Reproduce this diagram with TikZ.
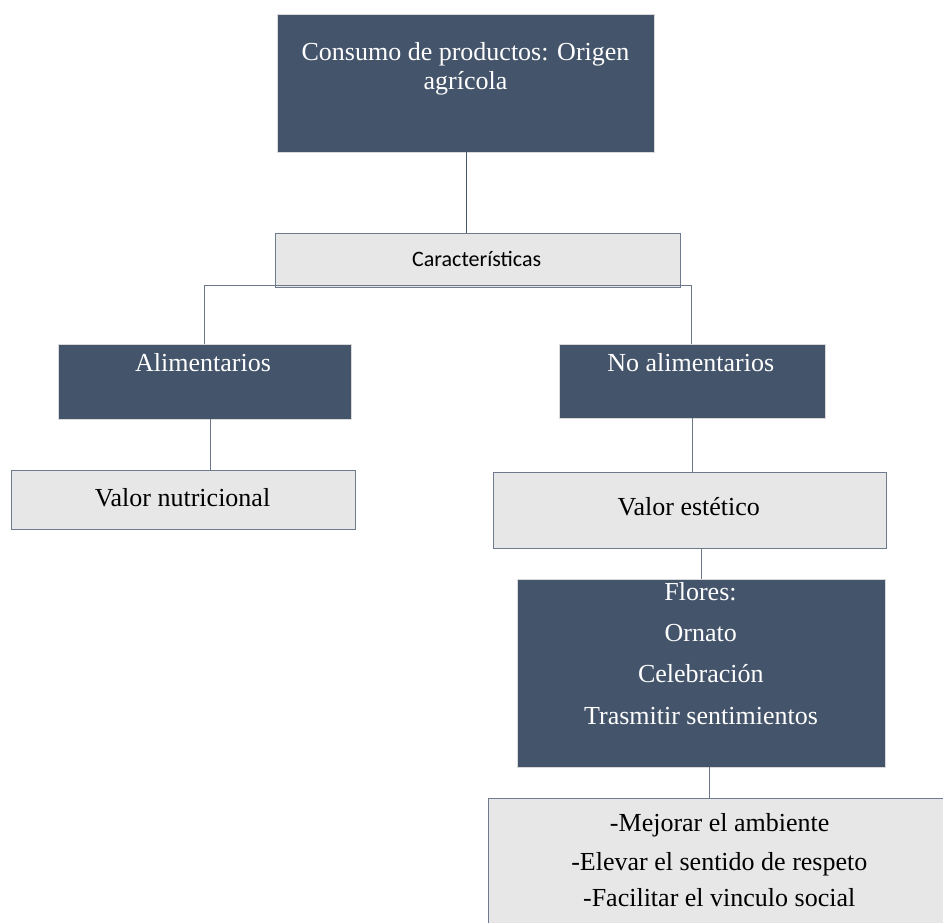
\documentclass[tikz,border=0pt]{standalone}
\usepackage{fontspec}
\setmainfont{Liberation Serif}
\newfontfamily\carlito{Carlito}
\definecolor{dark}{HTML}{44546A}
\definecolor{lightg}{HTML}{E7E7E7}
\definecolor{frame}{HTML}{6E7B8F}
\definecolor{dframe}{HTML}{D9D9D9}
\definecolor{conn}{HTML}{6B7789}
\tikzset{
  darkbox/.style={draw=dframe, fill=dark, line width=0.8pt, inner sep=0pt, anchor=north west},
  lightbox/.style={draw=frame, fill=lightg, line width=1pt, inner sep=0pt, anchor=north west},
  wtxt/.style={text=white, inner sep=0pt, anchor=base, font=\fontsize{26}{30}\selectfont},
  btxt/.style={text=black, inner sep=0pt, anchor=base, font=\fontsize{26}{30}\selectfont},
  stxt/.style={text=black, inner sep=0pt, anchor=base, font=\carlito\fontsize{22}{26}\selectfont},
  link/.style={draw=conn, line width=1pt},
}
\begin{document}
\begin{tikzpicture}[x=1pt,y=1pt]
\useasboundingbox (0,0) rectangle (943,-922);
\clip (0,0) rectangle (943,-922);
% boxes
\node[darkbox, minimum width=377.6pt, minimum height=137.7pt] (top) at (276.7,-14) {};
\node[lightbox, minimum width=405.3pt, minimum height=53.4pt] (carac) at (274.7,-233.3) {};
\node[darkbox, minimum width=292.4pt, minimum height=75.3pt] (alim) at (58.3,-344) {};
\node[lightbox, minimum width=344pt, minimum height=59pt] (nutri) at (11,-470.3) {};
\node[darkbox, minimum width=266pt, minimum height=74.3pt] (noalim) at (559,-344) {};
\node[lightbox, minimum width=392.4pt, minimum height=76.3pt] (estet) at (493.3,-471.7) {};
\node[darkbox, minimum width=368.3pt, minimum height=188pt] (flores) at (516.7,-579) {};
\node[lightbox, minimum width=470pt, minimum height=140pt] (mejora) at (488,-798.3) {};
% connector coordinates
\coordinate (c0) at (466,-152);
\coordinate (c1) at (466,-233.3);
\coordinate (hl) at (204.7,-285.5);
\coordinate (hr) at (691.3,-285.5);
\coordinate (al) at (204.7,-344);
\coordinate (ar) at (691.3,-344);
\coordinate (n1) at (210,-419.3);
\coordinate (n2) at (210,-470.3);
\coordinate (e1) at (692,-418.3);
\coordinate (e2) at (692,-471.7);
\coordinate (f1) at (701.3,-548);
\coordinate (f2) at (701.3,-579);
\coordinate (m1) at (709.3,-767);
\coordinate (m2) at (709.3,-798.3);
\draw[link, draw=dark] (c0) -- (c1);
\draw[link] (al) -- (hl) -- (hr) -- (ar);
\draw[link] (n1) -- (n2);
\draw[link] (e1) -- (e2);
\draw[link] (f1) -- (f2);
\draw[link] (m1) -- (m2);
% texts
\node[wtxt] (t1) at (465.5,-60) {Consumo de productos: Origen};
\node[wtxt] (t2) at (465.5,-89) {agrícola};
\node[stxt] (t3) at (476.7,-266.7) {Características};
\node[wtxt] (t4) at (203,-371.7) {Alimentarios};
\node[btxt] (t5) at (182.5,-506.7) {Valor nutricional};
\node[wtxt] (t6) at (690.8,-371.7) {No alimentarios};
\node[btxt] (t7) at (688.8,-515.7) {Valor estético};
\node[wtxt] (t8) at (700.5,-600.7) {Flores:};
\node[wtxt] (t9) at (700.7,-641) {Ornato};
\node[wtxt] (t10) at (700.8,-682.3) {Celebración};
\node[wtxt] (t11) at (701,-724) {Trasmitir sentimientos};
\node[btxt] (t12) at (719.7,-831.7) {-Mejorar el ambiente};
\node[btxt] (t13) at (719.3,-870) {-Elevar el sentido de respeto};
\node[btxt] (t14) at (719.2,-906.7) {-Facilitar el vinculo social};
\end{tikzpicture}
\end{document}
